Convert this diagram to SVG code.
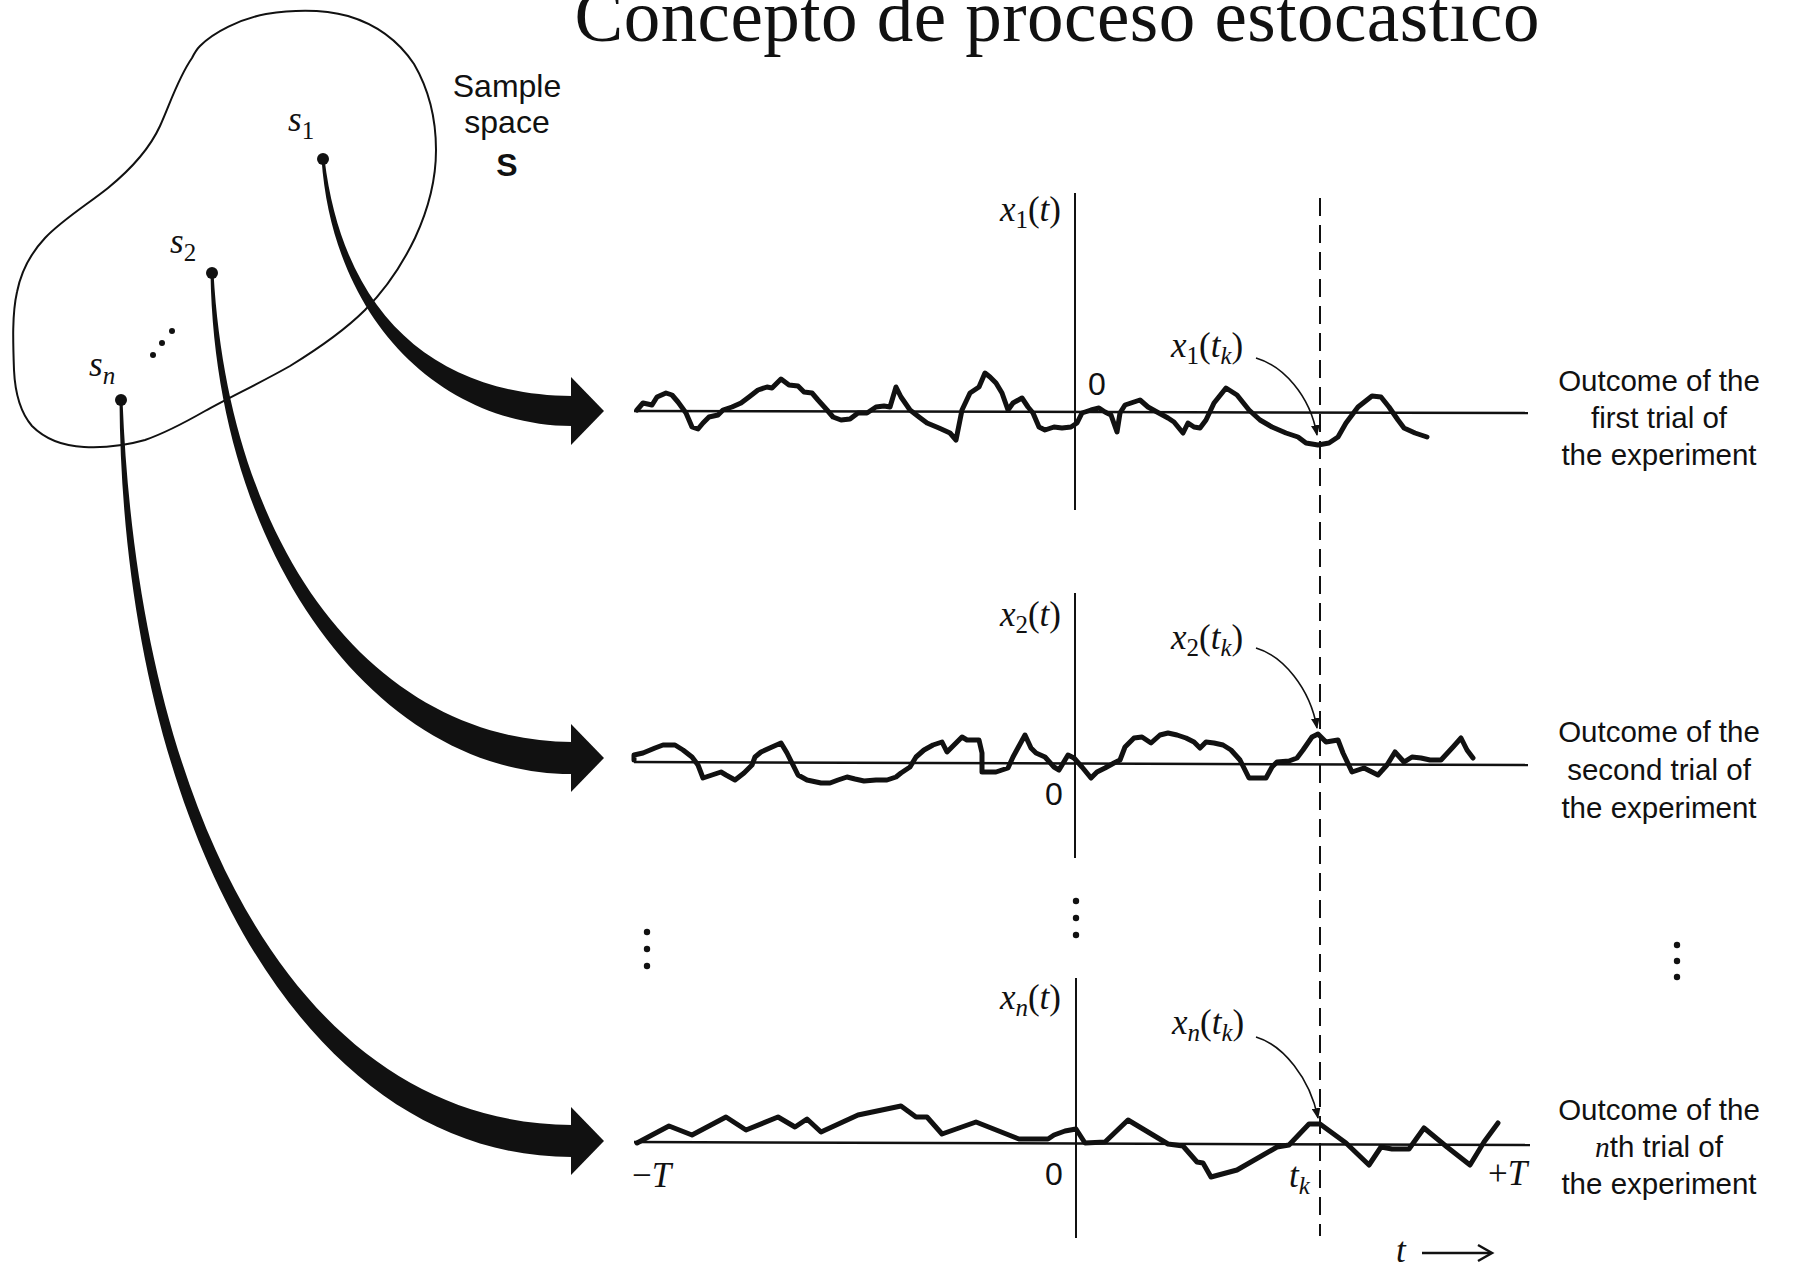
<svg xmlns="http://www.w3.org/2000/svg" width="1801" height="1274" viewBox="0 0 1801 1274">
<style>
.wave{fill:none;stroke:#111;stroke-width:5;stroke-linejoin:round;stroke-linecap:round}
.axis{fill:none;stroke:#111;stroke-width:2}
.base{fill:none;stroke:#111;stroke-width:2.5}
.dash{fill:none;stroke:#111;stroke-width:2;stroke-dasharray:18 9}
.thick{fill:#111;stroke:none}
.lead{fill:none;stroke:#111;stroke-width:1.6}
.math{font-family:"Liberation Serif","Times New Roman",serif;font-size:35px;fill:#111}
.it{font-style:italic}
.sub{font-size:25px}
.sans{font-family:"Liberation Sans",Arial,sans-serif;font-size:32px;fill:#111}
.out{font-family:"Liberation Sans",Arial,sans-serif;font-size:29.5px;fill:#111;text-anchor:middle}
.dot{fill:#111}
</style>
<defs>
<marker id="tip" viewBox="0 0 10 8" refX="9" refY="4" markerWidth="11" markerHeight="9" markerUnits="userSpaceOnUse" orient="auto">
<path d="M0,0 L10,4 L0,8 Z" fill="#111"/>
</marker>
</defs>
<rect width="1801" height="1274" fill="#fff"/>

<text id="title" x="1057" y="41" font-family="Liberation Serif, Times New Roman, serif" font-size="73" text-anchor="middle" textLength="965" fill="#111">Concepto de proceso estocástico</text>

<g id="sample-space">
<path class="axis" stroke-width="2.2" d="M192,58 C178,78 170,104 160,126 C149,150 130,170 108,188 C88,204 62,220 45,238 C30,254 21,272 17,292 C12,314 13,342 14,370 C15,392 20,412 32,426 C46,440 64,446 84,447 C104,448 124,446 145,440 C165,433 184,423 205,411 C230,397 262,382 290,366 C316,350 343,332 365,310 C385,290 402,265 415,238 C428,210 436,180 436,150 C436,118 428,88 414,64 C398,40 375,24 348,16 C322,9 292,10 266,14 C240,19 214,32 200,46 C196,50 194,54 192,58 Z"/>
<text class="sans" x="507" y="97" text-anchor="middle">Sample</text>
<text class="sans" x="507" y="133" text-anchor="middle">space</text>
<text class="sans" x="507" y="176" text-anchor="middle" font-weight="bold" font-size="30">S</text>
</g>

<g id="s1">
<circle class="dot" cx="323" cy="159" r="6"/>
<text class="math" x="288" y="131"><tspan class="it">s</tspan><tspan class="sub" dy="8">1</tspan></text>
</g>
<g id="s2">
<circle class="dot" cx="212" cy="273" r="6"/>
<text class="math" x="170" y="253"><tspan class="it">s</tspan><tspan class="sub" dy="8">2</tspan></text>
</g>
<g id="sn">
<circle class="dot" cx="121" cy="400" r="6"/>
<text class="math" x="89" y="376"><tspan class="it">s</tspan><tspan class="sub it" dy="8">n</tspan></text>
</g>
<g id="s-dots">
<circle class="dot" cx="153" cy="355" r="3"/>
<circle class="dot" cx="162" cy="343" r="3"/>
<circle class="dot" cx="172" cy="331" r="3"/>
</g>

<g id="connectors">
<path class="thick" d="M324.5,159 C344,320 440,395 572,396 L572,426 C440,425 333,320 321.5,159 Z"/>
<path class="thick" d="M571,377 L604,411 L571,445 Z"/>
<path class="thick" d="M213.5,273 C230,560 380,741 572,742 L572,774 C380,775 215,560 210.5,273 Z"/>
<path class="thick" d="M571,724 L604,758 L571,792 Z"/>
<path class="thick" d="M122.5,400 C139,820 300,1123 572,1125 L572,1157 C300,1157 122,820 119.5,400 Z"/>
<path class="thick" d="M571,1107 L604,1141 L571,1175 Z"/>
</g>

<g id="panel1">
<line class="axis" x1="1075" y1="193" x2="1075" y2="510"/>
<line class="dash" x1="1320" y1="198" x2="1320" y2="1236"/>
<line class="base" x1="634" y1="411" x2="1528" y2="413"/>
<polyline class="wave" points="637,410 643,403 652,405 657,397 666,393 672,395 678,402 686,413 692,427 698,429 703,423 709,417 718,415 723,410 732,407 741,403 749,397 758,390 767,387 772,388 781,379 789,385 798,386 804,392 812,393 818,400 827,410 833,417 841,420 850,419 858,413 867,413 876,407 884,406 890,407 896,387 901,397 910,410 919,417 927,423 939,428 950,433 956,440 962,410 970,393 979,387 985,373 990,377 996,383 1002,393 1008,410 1013,403 1022,398 1028,407 1033,413 1039,427 1045,430 1054,427 1062,428 1071,427 1077,423 1082,413 1091,410 1099,408 1105,412 1111,415 1117,432 1120,413 1125,405 1140,400 1148,407 1157,412 1168,418 1174,422 1183,433 1188,423 1194,427 1200,428 1206,420 1214,403 1226,388 1237,395 1249,410 1260,420 1272,427 1286,433 1298,437 1306,443 1318,445 1329,443 1338,437 1346,423 1358,407 1372,396 1381,397 1389,407 1398,420 1404,428 1415,433 1427,437"/>
<text class="math" x="1061" y="221" text-anchor="end"><tspan class="it">x</tspan><tspan class="sub" dy="7">1</tspan><tspan dy="-7">(</tspan><tspan class="it">t</tspan>)</text>
<text class="sans" x="1097" y="395" text-anchor="middle" font-size="26">0</text>
<text class="math" x="1171" y="357"><tspan class="it">x</tspan><tspan class="sub" dy="7">1</tspan><tspan dy="-7">(</tspan><tspan class="it">t</tspan><tspan class="sub it" dy="7">k</tspan><tspan dy="-7">)</tspan></text>
<path class="lead" d="M1256,358 C1283,366 1310,395 1317,435" marker-end="url(#tip)"/>
<text class="out" x="1659" y="391">Outcome of the</text>
<text class="out" x="1659" y="428">first trial of</text>
<text class="out" x="1659" y="465">the experiment</text>
</g>

<g id="panel2">
<line class="axis" x1="1075" y1="593" x2="1075" y2="858"/>
<line class="base" x1="634" y1="762" x2="1528" y2="765"/>
<polyline class="wave" points="634,760 634,755 643,753 655,748 663,745 675,745 683,750 692,757 698,765 703,778 712,775 721,772 726,775 735,780 744,773 752,765 755,757 761,752 772,747 781,743 787,753 792,763 798,775 807,780 821,783 830,783 838,780 847,777 855,779 864,781 876,780 887,780 896,777 901,773 910,767 916,757 924,750 933,745 942,742 947,752 956,743 962,737 967,740 976,740 979,740 982,753 982,772 996,772 1008,768 1013,757 1025,735 1031,748 1036,753 1045,757 1054,767 1059,770 1068,755 1074,758 1082,767 1091,778 1097,772 1105,768 1114,763 1120,760 1125,747 1134,738 1142,737 1151,743 1160,735 1168,733 1177,735 1186,738 1194,742 1200,748 1206,742 1214,743 1223,745 1231,750 1240,760 1249,778 1266,778 1272,767 1277,762 1289,761 1297,758 1303,750 1312,737 1318,734 1326,742 1338,740 1343,753 1352,772 1364,768 1378,775 1387,765 1395,752 1404,762 1412,757 1421,758 1430,760 1441,760 1453,747 1461,738 1467,750 1473,758"/>
<text class="math" x="1061" y="626" text-anchor="end"><tspan class="it">x</tspan><tspan class="sub" dy="7">2</tspan><tspan dy="-7">(</tspan><tspan class="it">t</tspan>)</text>
<text class="sans" x="1054" y="805" text-anchor="middle" font-size="27">0</text>
<text class="math" x="1171" y="649"><tspan class="it">x</tspan><tspan class="sub" dy="7">2</tspan><tspan dy="-7">(</tspan><tspan class="it">t</tspan><tspan class="sub it" dy="7">k</tspan><tspan dy="-7">)</tspan></text>
<path class="lead" d="M1256,648 C1283,656 1310,688 1317,728" marker-end="url(#tip)"/>
<text class="out" x="1659" y="742">Outcome of the</text>
<text class="out" x="1659" y="780">second trial of</text>
<text class="out" x="1659" y="818">the experiment</text>
</g>

<g id="ellipsis">
<circle class="dot" cx="1076" cy="901" r="3.2"/>
<circle class="dot" cx="1076" cy="918" r="3.2"/>
<circle class="dot" cx="1076" cy="935" r="3.2"/>
<circle class="dot" cx="647" cy="932" r="3.2"/>
<circle class="dot" cx="647" cy="949" r="3.2"/>
<circle class="dot" cx="647" cy="966" r="3.2"/>
<circle class="dot" cx="1677" cy="945" r="3.2"/>
<circle class="dot" cx="1677" cy="961" r="3.2"/>
<circle class="dot" cx="1677" cy="977" r="3.2"/>
</g>

<g id="panelN">
<line class="axis" x1="1076" y1="978" x2="1076" y2="1238"/>
<line class="base" x1="634" y1="1142" x2="1530" y2="1145"/>
<polyline class="wave" points="637,1143 652,1135 669,1126 692,1135 726,1117 746,1130 778,1117 795,1127 807,1119 821,1132 858,1115 901,1106 916,1117 927,1117 942,1134 976,1122 1019,1139 1048,1139 1054,1135 1065,1131 1076,1129 1085,1143 1105,1142 1128,1120 1168,1144 1183,1146 1197,1162 1203,1163 1211,1177 1237,1170 1277,1147 1289,1145 1309,1124 1320,1124 1346,1143 1369,1165 1381,1147 1392,1149 1409,1149 1424,1128 1447,1147 1470,1165 1484,1142 1498,1123"/>
<text class="math" x="1061" y="1009" text-anchor="end"><tspan class="it">x</tspan><tspan class="sub it" dy="7">n</tspan><tspan dy="-7">(</tspan><tspan class="it">t</tspan>)</text>
<text class="math" x="1172" y="1034"><tspan class="it">x</tspan><tspan class="sub it" dy="7">n</tspan><tspan dy="-7">(</tspan><tspan class="it">t</tspan><tspan class="sub it" dy="7">k</tspan><tspan dy="-7">)</tspan></text>
<path class="lead" d="M1256,1037 C1283,1045 1310,1078 1318,1118" marker-end="url(#tip)"/>
<text class="math" x="632" y="1187" font-size="31"><tspan>−</tspan><tspan class="it">T</tspan></text>
<text class="sans" x="1054" y="1185" text-anchor="middle" font-size="27">0</text>
<text class="math" x="1289" y="1187" font-size="31"><tspan class="it">t</tspan><tspan class="sub it" dy="7">k</tspan></text>
<text class="math" x="1488" y="1185" font-size="31"><tspan>+</tspan><tspan class="it">T</tspan></text>
<text class="out" x="1659" y="1120">Outcome of the</text>
<text class="out" x="1659" y="1157"><tspan font-family="Liberation Serif, serif" font-style="italic">n</tspan>th trial of</text>
<text class="out" x="1659" y="1194">the experiment</text>
</g>

<g id="time-axis">
<text class="math it" x="1396" y="1262" font-size="31">t</text>
<line class="base" x1="1422" y1="1253" x2="1491" y2="1253"/>
<polyline class="base" points="1478,1245 1492,1253 1478,1261"/>
</g>
</svg>
